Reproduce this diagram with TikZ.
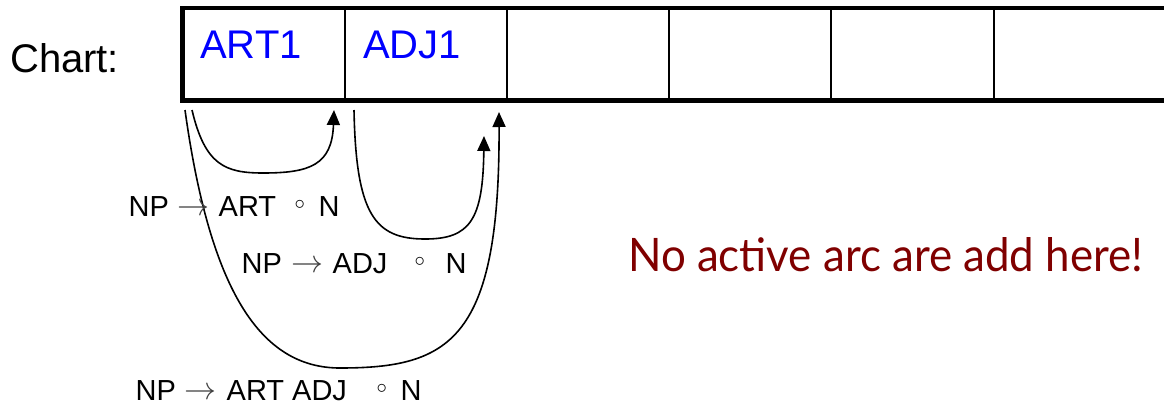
\documentclass[tikz,border=0pt]{standalone}
\usepackage{fontspec}
\setmainfont{Liberation Sans}
\newfontfamily\notefont{Lato}
\usetikzlibrary{arrows.meta}
\definecolor{notered}{RGB}{128,0,0}
\newcommand{\putat}[2]{\makebox[0pt][l]{\hspace*{#1}#2}}
\newcommand{\rcirc}{\raisebox{7bp}{$\scriptstyle\circ$}}
\newcommand{\rarr}{\raisebox{1bp}{\color{black!75}\resizebox{32bp}{!}{$\rightarrow$}}}
\begin{document}
\begin{tikzpicture}[x=1bp,y=-1bp,
  thickline/.style={line width=4.5bp, line join=miter},
  divline/.style={line width=2.2bp},
  arcline/.style={line width=1.6bp, -{Triangle[length=15bp,width=13bp]}},
  celltext/.style={anchor=base west, inner sep=0pt, text=blue, font=\fontsize{40bp}{40bp}\selectfont},
  ruletext/.style={anchor=base west, inner sep=0pt, font=\fontsize{29bp}{29bp}\selectfont},
  bigtext/.style={anchor=base west, inner sep=0pt, font=\fontsize{40bp}{40bp}\selectfont}]
\useasboundingbox (0,0) rectangle (1164,404);
\fill[white] (0,0) rectangle (1164,404);

% chart
\node[bigtext] (chartlabel) at (10,72) {Chart:};
\foreach \x in {345,507,669,831,994} \draw[divline] (\x,8) -- (\x,100.5);
\draw[thickline] (1175,8) -- (182.5,8) -- (182.5,100.5) -- (1175,100.5);
\node[celltext] (art1) at (200,58) {ART1};
\node[celltext] (adj1) at (363,58) {ADJ1};

% arc end points
\coordinate (s1) at (192,110);
\coordinate (e1) at (334,110);
\coordinate (s2) at (354,110);
\coordinate (e2) at (484,136);
\coordinate (s3) at (185,110);
\coordinate (e3) at (499,112);

\draw[arcline] (s1) .. controls (205,165) and (225,173) .. (263,173)
                   .. controls (310,173) and (332,165) .. (e1);
\draw[arcline] (s2) .. controls (356,215) and (375,239) .. (425,239)
                   .. controls (470,239) and (483,220) .. (e2);
\draw[arcline] (s3) .. controls (210,290) and (260,368) .. (340,368)
                   .. controls (450,368) and (500,340) .. (e3);

% rule labels
\node[ruletext] (r1) at (128,216) {\putat{0bp}{NP}\putat{48.5bp}{\rarr}\putat{90bp}{ART}\putat{166bp}{\rcirc}\putat{190bp}{N}};
\node[ruletext] (r2) at (241,273) {\putat{0bp}{NP}\putat{49.5bp}{\rarr}\putat{91bp}{ADJ}\putat{173bp}{\rcirc}\putat{204bp}{N}};
\node[ruletext] (r3) at (135,400) {\putat{0bp}{NP}\putat{48.5bp}{\rarr}\putat{91bp}{ART ADJ}\putat{241bp}{\rcirc}\putat{265bp}{N}};

% note
\node[anchor=base west, inner sep=0pt, text=notered] (note) at (628,271)
  {\resizebox{515bp}{34bp}{\notefont No active arc are add here!}};
\end{tikzpicture}
\end{document}
